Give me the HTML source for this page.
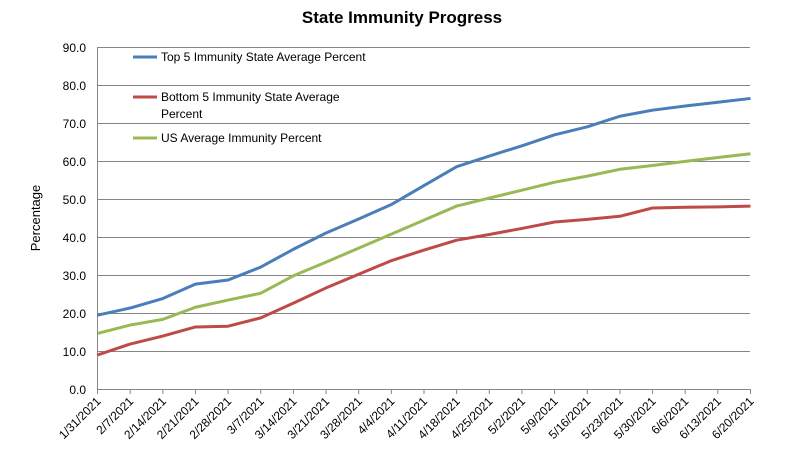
<!DOCTYPE html><html><head><meta charset="utf-8"><style>body{margin:0;background:#fff}svg{display:block;font-family:"Liberation Sans",sans-serif}</style></head><body>
<svg width="801" height="462" viewBox="0 0 801 462">
<text x="402" y="23" text-anchor="middle" font-size="17" font-weight="bold">State Immunity Progress</text>
<g stroke="#868686" stroke-width="1">
<line x1="97" y1="47.5" x2="750" y2="47.5"/><line x1="97" y1="85.5" x2="750" y2="85.5"/><line x1="97" y1="123.5" x2="750" y2="123.5"/><line x1="97" y1="161.5" x2="750" y2="161.5"/><line x1="97" y1="199.5" x2="750" y2="199.5"/><line x1="97" y1="237.5" x2="750" y2="237.5"/><line x1="97" y1="275.5" x2="750" y2="275.5"/><line x1="97" y1="313.5" x2="750" y2="313.5"/><line x1="97" y1="351.5" x2="750" y2="351.5"/><line x1="97" y1="389.5" x2="750" y2="389.5"/>
<line x1="97.5" y1="47" x2="97.5" y2="389"/>
</g>
<g font-size="12" text-anchor="end" fill="#000">
<text x="86" y="52">90.0</text><text x="86" y="90">80.0</text><text x="86" y="128">70.0</text><text x="86" y="166">60.0</text><text x="86" y="204">50.0</text><text x="86" y="242">40.0</text><text x="86" y="280">30.0</text><text x="86" y="318">20.0</text><text x="86" y="356">10.0</text><text x="86" y="394">0.0</text>
</g>
<text transform="translate(40,218) rotate(-90)" text-anchor="middle" font-size="13">Percentage</text>
<g id="ticks" stroke="#868686"></g>
<g id="xl" font-size="12" text-anchor="end"></g>
<g id="lines" fill="none" stroke-width="3" stroke-linejoin="round"></g>
<g font-size="12">
<line x1="133" y1="57" x2="157" y2="57" stroke="#4a7ebb" stroke-width="3"/><text x="161" y="61">Top 5 Immunity State Average Percent</text>
<line x1="133" y1="97" x2="157" y2="97" stroke="#be4b48" stroke-width="3"/><text x="161" y="101">Bottom 5 Immunity State Average</text><text x="161" y="118">Percent</text>
<line x1="133" y1="138" x2="157" y2="138" stroke="#98b954" stroke-width="3"/><text x="161" y="142">US Average Immunity Percent</text>
</g>
<script>
var d=["1/31/2021","2/7/2021","2/14/2021","2/21/2021","2/28/2021","3/7/2021","3/14/2021","3/21/2021","3/28/2021","4/4/2021","4/11/2021","4/18/2021","4/25/2021","5/2/2021","5/9/2021","5/16/2021","5/23/2021","5/30/2021","6/6/2021","6/13/2021","6/20/2021"];
var top5=[19.6,21.5,24,27.8,28.9,32.3,37,41.3,45,48.8,53.8,58.8,61.6,64.3,67.2,69.3,72.1,73.7,74.8,75.8,76.8];
var bot=[9.1,12,14.1,16.5,16.7,18.9,22.8,26.8,30.4,34,36.8,39.4,40.9,42.5,44.2,44.9,45.7,47.9,48.1,48.2,48.4];
var us=[14.8,17,18.5,21.7,23.6,25.4,30,33.6,37.3,41,44.7,48.4,50.5,52.6,54.7,56.3,58.1,59.1,60.2,61.2,62.2];
var ns="http://www.w3.org/2000/svg",X=function(i){return 97.5+i*32.65},Y=function(v){return 389.5-v*3.79};
var t=document.getElementById("ticks"),xl=document.getElementById("xl"),L=document.getElementById("lines");
for(var i=0;i<21;i++){var l=document.createElementNS(ns,"line");l.setAttribute("x1",X(i));l.setAttribute("x2",X(i));l.setAttribute("y1",389);l.setAttribute("y2",394);t.appendChild(l);
var tx=document.createElementNS(ns,"text");tx.setAttribute("transform","translate("+(X(i)+4)+",402) rotate(-45)");tx.textContent=d[i];xl.appendChild(tx);}
[[top5,"#4a7ebb"],[bot,"#be4b48"],[us,"#98b954"]].forEach(function(s){var p=document.createElementNS(ns,"polyline");p.setAttribute("points",s[0].map(function(v,i){return X(i)+","+Y(v)}).join(" "));p.setAttribute("stroke",s[1]);L.appendChild(p);});
</script>
</svg></body></html>
